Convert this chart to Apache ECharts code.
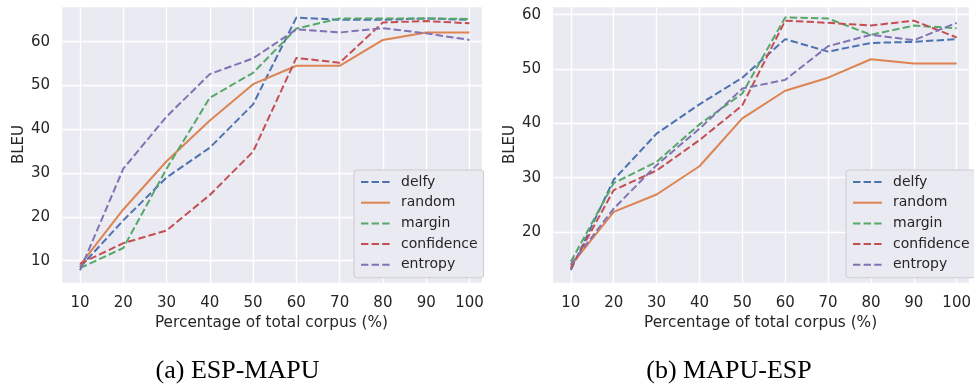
<!DOCTYPE html>
<html>
<head>
<meta charset="utf-8">
<script src="https://cdn.jsdelivr.net/npm/echarts@6/dist/echarts.min.js"></script>
<style>
  html, body { margin: 0; padding: 0; background: #fff; }
  #chart { width: 974px; height: 385px; }
</style>
</head>
<body>
<div id="chart"></div>
<script>
// x values (percentage of corpus)
const percents = [10, 20, 30, 40, 50, 60, 70, 80, 90, 100];
const methods = ['delfy', 'random', 'margin', 'confidence', 'entropy'];

// (a) ESP-MAPU
const aDelfy = [8.5, 19.2, 29.0, 35.8, 45.7, 65.5, 65.0, 65.0, 65.3, 65.0];
const aRandom = [9.0, 21.7, 32.7, 42.0, 50.3, 54.5, 54.5, 60.4, 62.1, 62.1];
const aMargin = [8.3, 12.9, 31.0, 47.2, 52.9, 63.0, 65.3, 65.3, 65.3, 65.2];
const aConfidence = [9.3, 14.0, 16.9, 25.0, 34.9, 56.3, 55.2, 64.4, 64.7, 64.2];
const aEntropy = [7.8, 31.0, 42.9, 52.6, 56.2, 62.8, 62.1, 63.1, 61.9, 60.4];

// (b) MAPU-ESP
const bDelfy = [13.0, 29.6, 38.1, 43.5, 48.4, 55.5, 53.2, 54.8, 55.0, 55.5];
const bRandom = [13.8, 23.7, 26.9, 32.1, 40.9, 46.0, 48.4, 51.8, 51.0, 51.0];
const bMargin = [14.5, 29.0, 32.9, 39.8, 45.5, 59.5, 59.3, 56.3, 58.0, 57.5];
const bConfidence = [13.3, 27.7, 31.3, 36.9, 43.3, 58.9, 58.5, 58.0, 58.9, 55.8];
const bEntropy = [14.0, 24.3, 32.3, 39.0, 46.4, 48.0, 54.2, 56.3, 55.3, 58.5];

const captions = ['(a) ESP-MAPU', '(b) MAPU-ESP'];

const colors = ['#4c72b0', '#dd8452', '#55a868', '#c44e52', '#8172b3'];
const dash = [7.4, 3.2];
const textColor = '#262626';
const font = 'DejaVu Sans';

const toPairs = (vals) => percents.map((p, i) => [p, vals[i]]);

const makeSeries = (sets, idx) =>
  sets.map((vals, i) => ({
    name: methods[i],
    type: 'line',
    xAxisIndex: idx,
    yAxisIndex: idx,
    symbol: 'none',
    data: toPairs(vals),
    lineStyle: {
      color: colors[i],
      width: 2,
      type: i === 1 ? 'solid' : dash,
    },
    itemStyle: { color: colors[i] },
    emphasis: { disabled: true },
  }));

const xAxisOpt = (idx) => ({
  type: 'value',
  gridIndex: idx,
  min: 5.61,
  max: 102.9,
  minInterval: 10,
  maxInterval: 10,
  name: 'Percentage of total corpus (%)',
  nameLocation: 'middle',
  nameGap: 32,
  nameTextStyle: { color: textColor, fontSize: 15.3, fontFamily: font },
  axisLine: { show: false },
  axisTick: { show: false },
  axisLabel: {
    color: textColor,
    fontSize: 15,
    fontFamily: font,
    margin: 13,
    showMinLabel: false,
    showMaxLabel: false,
  },
  splitLine: { lineStyle: { color: '#ffffff', width: 1.3 } },
});

const yAxisOpt = (idx, min, max) => ({
  type: 'value',
  gridIndex: idx,
  min: min,
  max: max,
  minInterval: 10,
  maxInterval: 10,
  name: 'BLEU',
  nameLocation: 'middle',
  nameGap: 34,
  nameTextStyle: { color: textColor, fontSize: 15, fontFamily: font },
  axisLine: { show: false },
  axisTick: { show: false },
  axisLabel: {
    color: textColor,
    fontSize: 15,
    fontFamily: font,
    margin: 11,
    showMinLabel: false,
    showMaxLabel: false,
  },
  splitLine: { lineStyle: { color: '#ffffff', width: 1.3 } },
});

const legendOpt = (left) => ({
  orient: 'vertical',
  left: left,
  top: 170,
  data: methods,
  itemWidth: 29,
  itemHeight: 14,
  itemGap: 6.7,
  padding: [5, 6, 6, 6],
  backgroundColor: '#eaeaf2',
  borderColor: '#cccccc',
  borderWidth: 1,
  borderRadius: 3,
  selectedMode: false,
  itemStyle: { opacity: 0 },
  textStyle: { color: textColor, fontSize: 14, lineHeight: 14, fontFamily: font, padding: [0, 0, 0, 6] },
});

const myChart = echarts.init(document.getElementById('chart'), null, { renderer: 'canvas' });
myChart.setOption({
  animation: false,
  title: [
    {
      text: captions[0],
      left: 232.5,
      top: 353,
      textAlign: 'center',
      textStyle: { fontFamily: 'Liberation Serif', fontSize: 26, fontWeight: 'normal', color: '#000' },
    },
    {
      text: captions[1],
      left: 724,
      top: 353,
      textAlign: 'center',
      textStyle: { fontFamily: 'Liberation Serif', fontSize: 26, fontWeight: 'normal', color: '#000' },
    },
  ],
  grid: [
    { left: 61, top: 6, width: 421, height: 277, show: true, backgroundColor: '#eaeaf2', borderWidth: 0 },
    { left: 552, top: 6, width: 421, height: 277, show: true, backgroundColor: '#eaeaf2', borderWidth: 0 },
  ],
  xAxis: [xAxisOpt(0), xAxisOpt(1)],
  yAxis: [yAxisOpt(0, 4.91, 68.15), yAxisOpt(1, 10.6, 61.6)],
  legend: [legendOpt(354), legendOpt(846)],
  series: [
    ...makeSeries([aDelfy, aRandom, aMargin, aConfidence, aEntropy], 0),
    ...makeSeries([bDelfy, bRandom, bMargin, bConfidence, bEntropy], 1),
  ],
});
window.addEventListener('resize', () => myChart.resize());
</script>
</body>
</html>
